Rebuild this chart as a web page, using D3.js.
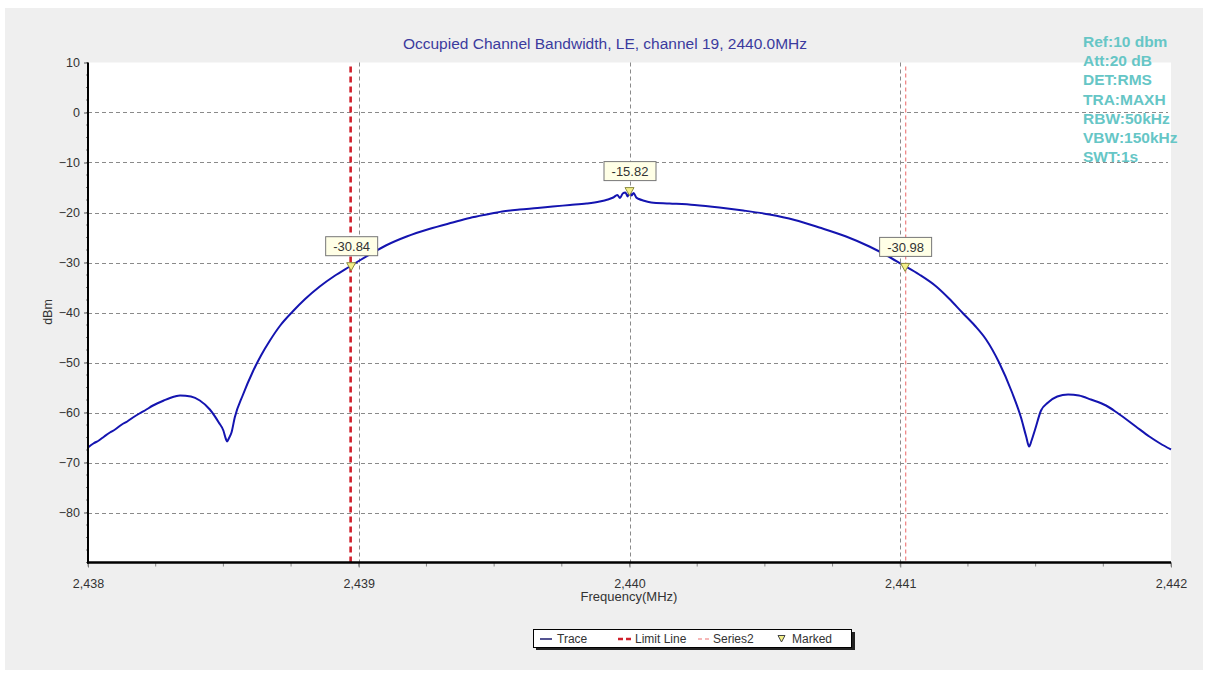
<!DOCTYPE html>
<html>
<head>
<meta charset="utf-8">
<script src="https://cdn.jsdelivr.net/npm/d3@7"></script>
<style>
  html, body { margin: 0; padding: 0; background: #ffffff; }
  svg { display: block; font-family: Arial, "Liberation Sans", sans-serif; }
</style>
</head>
<body>
<svg id="chart" width="1205" height="675"></svg>
<script>
// ---------- DATA ----------
const title = "Occupied Channel Bandwidth, LE, channel 19, 2440.0MHz";
const infoLines = ["Ref:10 dbm", "Att:20 dB", "DET:RMS", "TRA:MAXH", "RBW:50kHz", "VBW:150kHz", "SWT:1s"];
const xTicks = [2438, 2439, 2440, 2441, 2442];
const yTicks = [10, 0, -10, -20, -30, -40, -50, -60, -70, -80];
const yGrid = [0, -10, -20, -30, -40, -50, -60, -70, -80];
const xGrid = [2439, 2440, 2441];

const traceFreq = [
  2438.000, 2438.020, 2438.040, 2438.060, 2438.081, 2438.100, 2438.125, 2438.145, 2438.166, 2438.190,
  2438.210, 2438.240, 2438.280, 2438.320, 2438.340, 2438.380, 2438.413, 2438.450, 2438.483, 2438.500,
  2438.510, 2438.514, 2438.520, 2438.530, 2438.542, 2438.572, 2438.609, 2438.640, 2438.672, 2438.710,
  2438.756, 2438.800, 2438.856, 2438.910, 2438.967, 2439.000, 2439.041, 2439.100, 2439.177, 2439.260,
  2439.347, 2439.410, 2439.472, 2439.530, 2439.594, 2439.660, 2439.716, 2439.780, 2439.841, 2439.890,
  2439.920, 2439.940, 2439.955, 2439.965, 2439.975, 2439.985, 2439.993, 2440.000, 2440.008, 2440.015,
  2440.025, 2440.035, 2440.050, 2440.080, 2440.148, 2440.240, 2440.332, 2440.420, 2440.517, 2440.610,
  2440.701, 2440.800, 2440.886, 2440.950, 2441.007, 2441.070, 2441.133, 2441.180, 2441.229, 2441.275,
  2441.317, 2441.365, 2441.413, 2441.446, 2441.465, 2441.476, 2441.485, 2441.498, 2441.520, 2441.546,
  2441.580, 2441.620, 2441.660, 2441.704, 2441.760, 2441.800, 2441.870, 2441.920, 2441.960, 2442.000
];
const traceDbm = [
  -67.0, -66.2, -65.6, -64.8, -64.0, -63.4, -62.4, -61.8, -61.0, -60.2,
  -59.6, -58.6, -57.6, -56.8, -56.6, -56.8, -57.6, -59.4, -62.0, -63.6,
  -65.4, -65.8, -65.2, -64.0, -61.0, -56.5, -51.8, -48.5, -45.6, -42.6,
  -39.8, -37.4, -34.8, -32.7, -30.8, -29.7, -28.4, -26.6, -24.8, -23.3,
  -22.0, -21.1, -20.4, -19.8, -19.4, -19.1, -18.8, -18.5, -18.2, -17.8,
  -17.4, -17.0, -16.5, -17.1, -16.2, -16.0, -16.8, -15.9, -16.6, -16.1,
  -17.0, -17.3, -17.6, -18.0, -18.2, -18.5, -19.0, -19.6, -20.4, -21.5,
  -23.0, -24.8, -26.8, -28.6, -30.4, -32.4, -34.8, -37.2, -40.0, -42.6,
  -45.4, -50.0, -56.0, -61.0, -64.8, -66.8, -65.6, -63.4, -59.6, -58.0,
  -56.8, -56.4, -56.6, -57.4, -58.6, -60.0, -62.8, -64.8, -66.2, -67.4
];

const limitFreq = [2438.970];
const series2Freq = [2441.020];

const markerFreq = [2438.972, 2440.000, 2441.018];
const markerDbm = [-30.84, -15.82, -30.98];
const markerLabels = ["-30.84", "-15.82", "-30.98"];

const legendNames = ["Trace", "Limit Line", "Series2", "Marked"];

// ---------- LAYOUT ----------
const svg = d3.select("#chart");
const plot = { left: 88, right: 1171, top: 62.5, bottom: 562.5 };
const x = d3.scaleLinear().domain([2438, 2442]).range([plot.left, plot.right]);
const y = d3.scaleLinear().domain([-90, 10]).range([plot.bottom, plot.top]);

const traceColor = "#1414b0";
const gridColor = "#8a8a8a";
const textColor = "#333333";
const FONT = "Arial, 'Liberation Sans', sans-serif";

// backgrounds
svg.append("rect").attr("x", 5).attr("y", 8).attr("width", 1198).attr("height", 662).attr("fill", "#efefef");
svg.append("rect").attr("x", plot.left).attr("y", plot.top).attr("width", plot.right - plot.left).attr("height", plot.bottom - plot.top).attr("fill", "#ffffff");

// title
svg.append("text").attr("x", 605).attr("y", 49).attr("text-anchor", "middle")
  .attr("font-size", 15.5).attr("fill", "#3b3b9e").text(title);

// grid
const grid = svg.append("g");
grid.selectAll("line.h").data(yGrid).join("line")
  .attr("x1", plot.left).attr("x2", plot.right - 3)
  .attr("y1", d => Math.round(y(d)) + 0.5).attr("y2", d => Math.round(y(d)) + 0.5)
  .attr("stroke", gridColor).attr("stroke-width", 1).attr("stroke-dasharray", "4,3");
grid.selectAll("line.v").data(xGrid).join("line")
  .attr("x1", d => Math.round(x(d)) + 0.5).attr("x2", d => Math.round(x(d)) + 0.5)
  .attr("y1", plot.top).attr("y2", plot.bottom)
  .attr("stroke", gridColor).attr("stroke-width", 1).attr("stroke-dasharray", "4,3");

// limit line & series2
svg.selectAll("line.limit").data(limitFreq).join("line")
  .attr("x1", d => x(d)).attr("x2", d => x(d))
  .attr("y1", plot.top + 4).attr("y2", plot.bottom)
  .attr("stroke", "#d0202c").attr("stroke-width", 2.6).attr("stroke-dasharray", "6,4");
svg.selectAll("line.s2").data(series2Freq).join("line")
  .attr("x1", d => x(d)).attr("x2", d => x(d))
  .attr("y1", plot.top + 4).attr("y2", plot.bottom)
  .attr("stroke", "#f08a8a").attr("stroke-width", 1.3).attr("stroke-dasharray", "4,3");

// trace
const traceData = traceFreq.map((f, i) => [f, traceDbm[i]]);
svg.append("path").datum(traceData)
  .attr("fill", "none").attr("stroke", traceColor).attr("stroke-width", 2)
  .attr("stroke-linejoin", "round")
  .attr("d", d3.line().x(d => x(d[0])).y(d => y(d[1])).curve(d3.curveMonotoneX));

// axes
const yAxis = d3.axisLeft(y).tickValues(yTicks).tickSize(4).tickPadding(4).tickFormat(d3.format("d"));
const gy = svg.append("g").attr("transform", `translate(${plot.left},0)`).call(yAxis);
gy.select(".domain").remove();
gy.selectAll("text").attr("font-size", 12.5).attr("fill", textColor).attr("font-family", FONT);
gy.selectAll("line").attr("stroke", "#555");
const yMinor = d3.range(-90, 10.01, 2.5);
svg.append("g").selectAll("line").data(yMinor).join("line")
  .attr("x1", plot.left - 2).attr("x2", plot.left)
  .attr("y1", d => y(d)).attr("y2", d => y(d)).attr("stroke", "#777");

const xAxis = d3.axisBottom(x).tickValues(xTicks).tickSize(5).tickPadding(12).tickFormat(d3.format(","));
const gx = svg.append("g").attr("transform", `translate(0,${plot.bottom})`).call(xAxis);
gx.select(".domain").remove();
gx.selectAll("text").attr("font-size", 12.5).attr("fill", textColor).attr("font-family", FONT);
gx.selectAll("line").attr("stroke", "#777");
const xMinor = d3.range(2438, 2442.001, 0.25);
svg.append("g").selectAll("line").data(xMinor).join("line")
  .attr("x1", d => x(d)).attr("x2", d => x(d))
  .attr("y1", plot.bottom).attr("y2", plot.bottom + 4).attr("stroke", "#888");

svg.append("line").attr("x1", plot.left).attr("x2", plot.left).attr("y1", plot.top).attr("y2", plot.bottom + 1)
  .attr("stroke", "#000").attr("stroke-width", 2);
svg.append("line").attr("x1", plot.left - 1).attr("x2", plot.right).attr("y1", plot.bottom).attr("y2", plot.bottom)
  .attr("stroke", "#000").attr("stroke-width", 2.5);

// axis titles
svg.append("text").attr("x", 629).attr("y", 601).attr("text-anchor", "middle")
  .attr("font-size", 13).attr("fill", textColor).text("Frequency(MHz)");
svg.append("text").attr("transform", "translate(52,312) rotate(-90)").attr("text-anchor", "middle")
  .attr("font-size", 12.5).attr("fill", textColor).text("dBm");

// markers
const tri = "M-4.5,-4 L4.5,-4 L0,4 Z";
const mk = svg.append("g").selectAll("g").data(markerFreq.map((f, i) => ({ f, v: markerDbm[i], t: markerLabels[i] }))).join("g")
  .attr("transform", d => `translate(${x(d.f)},${y(d.v)})`);
mk.append("path").attr("d", tri).attr("fill", "#f4f08a").attr("stroke", "#8a8a40").attr("stroke-width", 1);
mk.append("rect").attr("x", -25.5).attr("y", -30).attr("width", 52).attr("height", 19)
  .attr("fill", "#ffffe6").attr("stroke", "#777").attr("stroke-width", 1);
mk.append("text").attr("x", 0.5).attr("y", -15.5).attr("text-anchor", "middle")
  .attr("font-size", 13).attr("fill", textColor).text(d => d.t);

// info block
svg.append("g").selectAll("text").data(infoLines).join("text")
  .attr("x", 1083).attr("y", (d, i) => 47 + i * 19.2)
  .attr("font-size", 15.5).attr("font-weight", "bold").attr("fill", "#66c6c6").text(d => d);

// legend
const lg = svg.append("g");
lg.append("rect").attr("x", 536).attr("y", 632).attr("width", 319).attr("height", 18).attr("fill", "#222");
lg.append("rect").attr("x", 533.5).attr("y", 629.5).attr("width", 318).attr("height", 18).attr("fill", "#fff").attr("stroke", "#000");
const legendX = [557, 635, 713, 792];
lg.selectAll("text").data(legendNames).join("text")
  .attr("x", (d, i) => legendX[i]).attr("y", 643).attr("font-size", 12).attr("fill", textColor).text(d => d);
lg.append("line").attr("x1", 540).attr("x2", 552).attr("y1", 639).attr("y2", 639).attr("stroke", "#1b1b6e").attr("stroke-width", 1.5);
lg.append("line").attr("x1", 618).attr("x2", 632).attr("y1", 639).attr("y2", 639).attr("stroke", "#d0202c").attr("stroke-width", 2.5).attr("stroke-dasharray", "5,3");
lg.append("line").attr("x1", 698).attr("x2", 711).attr("y1", 639).attr("y2", 639).attr("stroke", "#f4a0a0").attr("stroke-width", 1.5).attr("stroke-dasharray", "4,3");
lg.append("path").attr("transform", "translate(781.5,638.5)").attr("d", "M-3.5,-3 L3.5,-3 L0,3.5 Z")
  .attr("fill", "#f4f08a").attr("stroke", "#444").attr("stroke-width", 1);
</script>
</body>
</html>
